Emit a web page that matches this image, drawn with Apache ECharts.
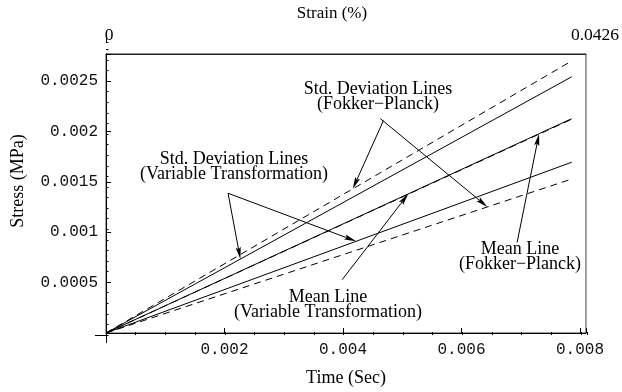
<!DOCTYPE html>
<html>
<head>
<meta charset="utf-8">
<script src="https://cdn.jsdelivr.net/npm/echarts@6/dist/echarts.min.js"></script>
<style>
  html, body { margin: 0; padding: 0; background: #fff; }
  #chart { width: 622px; height: 392px; }
</style>
</head>
<body>
<div id="chart"></div>
<script>
// Time samples (s) at which every stress line is given
const timeValues = [0, 0.00786];

// Stress (MPa): standard deviation bounds, Fokker-Planck solution (dashed)
const stdUpperFP = [0, 0.00270];
const stdLowerFP = [0, 0.001528];
// Stress (MPa): standard deviation bounds, variable transformation (solid)
const stdUpperVT = [0, 0.002543];
const stdLowerVT = [0, 0.001695];
// Stress (MPa): mean response from both methods
const meanFP = [0, 0.002127];
const meanVT = [0, 0.002122];

// Axis extents and tick labels
const timeMax = 0.0081;
const stressMax = 0.00277;
const strainMax = 0.0426;
const timeTickLabels = [0.002, 0.004, 0.006, 0.008];
const stressTickLabels = [0.0005, 0.001, 0.0015, 0.002, 0.0025];
const strainTickLabels = [0, 0.0426];

const serif = '"Liberation Serif", "Times New Roman", serif';
const mono = '"Liberation Mono", "Courier New", monospace';

function pairs(ys) { return timeValues.map((t, i) => [t, ys[i]]); }
function valueAt(ys, t) {
  for (let i = 1; i < timeValues.length; i++) {
    if (t <= timeValues[i]) {
      const f = (t - timeValues[i - 1]) / (timeValues[i] - timeValues[i - 1]);
      return ys[i - 1] + f * (ys[i] - ys[i - 1]);
    }
  }
  return ys[ys.length - 1];
}
function inList(list, v) { return list.some(x => Math.abs(x - v) < 1e-9); }

const chart = echarts.init(document.getElementById('chart'), null, { renderer: 'canvas' });

const gridRect = { left: 106, right: 35, top: 42, bottom: 57 };
const black = '#000';

function lineSeries(name, ys, dashed) {
  return {
    name, type: 'line', data: pairs(ys), symbol: 'none', silent: true,
    xAxisIndex: 0, yAxisIndex: 0,
    lineStyle: { color: black, width: 1, type: dashed ? [7, 5] : 'solid' },
    animation: false
  };
}

chart.setOption({
  backgroundColor: '#fff',
  animation: false,
  grid: [
    Object.assign({ show: true, borderColor: '#444', borderWidth: 1, backgroundColor: 'transparent' }, gridRect),
    Object.assign({ show: false }, gridRect)
  ],
  xAxis: [
    {
      gridIndex: 0, type: 'value', position: 'bottom', min: 0, max: timeMax, interval: 0.002,
      axisLine: { show: true, onZero: false, lineStyle: { color: black, width: 1 } },
      axisTick: { show: true, inside: true, length: 5, lineStyle: { color: black } },
      axisLabel: {
        margin: 9, fontFamily: mono, fontSize: 16, color: '#111',
        formatter: v => inList(timeTickLabels, v) ? String(+v.toFixed(4)) : ''
      },
      splitLine: { show: false },
      name: 'Time (Sec)', nameLocation: 'middle', nameGap: 36,
      nameTextStyle: { fontFamily: serif, fontSize: 18, color: black }
    },
    {
      gridIndex: 0, type: 'value', position: 'top', min: 0, max: strainMax, interval: strainMax,
      axisLine: { show: true, onZero: false, lineStyle: { color: '#222', width: 1 } },
      axisTick: { show: false },
      axisLabel: {
        margin: 9, fontFamily: serif, fontSize: 17.5, color: black,
        formatter: v => v === strainTickLabels[0] ? '{a|' + strainTickLabels[0] + '}' : '{b|' + strainTickLabels[1] + '}',
        rich: {
          a: { fontFamily: serif, fontSize: 17.5, padding: [0, 0, 0, 6] },
          b: { fontFamily: serif, fontSize: 17.5, padding: [0, 0, 0, 18] }
        }
      },
      splitLine: { show: false },
      name: 'Strain (%)', nameLocation: 'middle', nameGap: 15,
      nameTextStyle: { fontFamily: serif, fontSize: 17, color: black, padding: [0, 28, 0, 0] }
    },
    {
      gridIndex: 1, type: 'value', position: 'bottom', min: 0, max: timeMax, interval: 0.0005,
      axisLine: { show: false }, axisLabel: { show: false }, splitLine: { show: false },
      axisTick: { show: true, inside: true, length: 3, lineStyle: { color: black } }
    }
  ],
  yAxis: [
    {
      gridIndex: 0, type: 'value', position: 'left', min: 0, max: stressMax, interval: 0.0005,
      axisLine: { show: true, onZero: false, lineStyle: { color: black, width: 1 } },
      axisTick: { show: true, inside: true, length: 5, lineStyle: { color: black } },
      axisLabel: {
        margin: 8, fontFamily: mono, fontSize: 16, color: '#111',
        formatter: v => inList(stressTickLabels, v) ? String(+v.toFixed(4)) : ''
      },
      splitLine: { show: false },
      name: 'Stress (MPa)', nameLocation: 'middle', nameGap: 79,
      nameTextStyle: { fontFamily: serif, fontSize: 18, color: black, padding: [0, 0, 0, 25] }
    },
    {
      gridIndex: 1, type: 'value', position: 'left', min: 0, max: stressMax, interval: 0.0001,
      axisLine: { show: false }, axisLabel: { show: false }, splitLine: { show: false },
      axisTick: { show: true, inside: true, length: 2.5, lineStyle: { color: black } }
    }
  ],
  series: [
    lineSeries('Upper std (Fokker-Planck)', stdUpperFP, true),
    lineSeries('Upper std (variable transformation)', stdUpperVT, false),
    lineSeries('Mean (Fokker-Planck)', meanFP, false),
    lineSeries('Mean (variable transformation)', meanVT, true),
    lineSeries('Lower std (variable transformation)', stdLowerVT, false),
    lineSeries('Lower std (Fokker-Planck)', stdLowerFP, true)
  ]
});

// Annotation callouts: text blocks and arrows pointing onto the curves
const callouts = [
  { text: 'Std. Deviation Lines\n(Fokker\u2212Planck)', x: 378, y: 97 },
  { text: 'Std. Deviation Lines\n(Variable Transformation)', x: 234, y: 167 },
  { text: 'Mean Line\n(Variable Transformation)', x: 328, y: 305 },
  { text: 'Mean Line\n(Fokker\u2212Planck)', x: 520, y: 257 }
];
// Arrow tails in (time, stress); heads land on a curve at the given time
const arrows = [
  { from: [0.004682, 0.002108], curve: stdUpperFP, t: 0.004165 },
  { from: [0.004631, 0.002127], curve: stdLowerFP, t: 0.006438 },
  { from: [0.002060, 0.001387], curve: stdUpperVT, t: 0.002268 },
  { from: [0.002060, 0.001387], curve: stdLowerVT, t: 0.004222 },
  { from: [0.003986, 0.000529], curve: meanFP, t: 0.005103 },
  { from: [0.006938, 0.000898], curve: meanFP, t: 0.007309 }
];

const graphics = [];
// short axis extensions beyond the frame corner
graphics.push({ type: 'line', silent: true, shape: { x1: 95, y1: 335.5, x2: 106, y2: 335.5 }, style: { stroke: black, lineWidth: 1 } });
graphics.push({ type: 'line', silent: true, shape: { x1: 106.5, y1: 335, x2: 106.5, y2: 343 }, style: { stroke: black, lineWidth: 1 } });
graphics.push({ type: 'line', silent: true, shape: { x1: 106.5, y1: 38, x2: 106.5, y2: 43 }, style: { stroke: black, lineWidth: 1 } });

callouts.forEach(c => {
  graphics.push({
    type: 'text', silent: true, x: c.x, y: c.y,
    style: {
      text: c.text, font: '18px ' + serif, fill: black,
      textAlign: 'center', textVerticalAlign: 'middle', lineHeight: 15
    }
  });
});

arrows.forEach(a => {
  const p0 = chart.convertToPixel({ gridIndex: 0 }, a.from);
  const p1 = chart.convertToPixel({ gridIndex: 0 }, [a.t, valueAt(a.curve, a.t)]);
  const dx = p1[0] - p0[0], dy = p1[1] - p0[1];
  const len = Math.hypot(dx, dy);
  const ux = dx / len, uy = dy / len;
  const headLen = 12, half = 2.6, notch = 10;
  const bx = p1[0] - ux * headLen, by = p1[1] - uy * headLen;
  const nx = p1[0] - ux * notch, ny = p1[1] - uy * notch;
  graphics.push({
    type: 'line', silent: true,
    shape: { x1: p0[0], y1: p0[1], x2: nx, y2: ny },
    style: { stroke: black, lineWidth: 1 }
  });
  graphics.push({
    type: 'polygon', silent: true,
    shape: { points: [[p1[0], p1[1]], [bx - uy * half, by + ux * half], [nx, ny], [bx + uy * half, by - ux * half]] },
    style: { fill: black }
  });
});

chart.setOption({ graphic: graphics });
</script>
</body>
</html>
